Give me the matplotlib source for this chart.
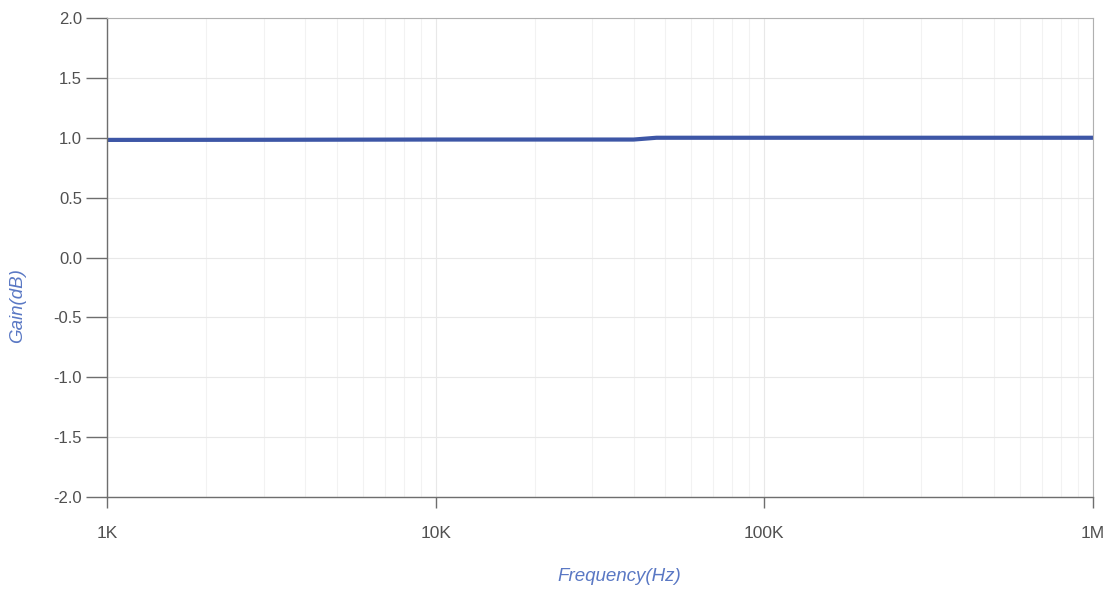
import numpy as np
import matplotlib.pyplot as plt
from matplotlib.ticker import FixedLocator, LogLocator, NullFormatter

# Frequency response data (Hz, dB)
freq = [1e3, 3e3, 1e4, 2e4, 4.0e4, 4.7e4, 1e5, 3e5, 1e6]
gain = [0.982, 0.983, 0.985, 0.985, 0.985, 1.0, 1.0, 1.0, 1.0]

x_ticks = [1e3, 1e4, 1e5, 1e6]
x_labels = ['1K', '10K', '100K', '1M']
y_ticks = [-2.0, -1.5, -1.0, -0.5, 0.0, 0.5, 1.0, 1.5, 2.0]

plt.rcParams['font.family'] = ['Liberation Sans', 'DejaVu Sans']

fig = plt.figure(figsize=(11.1, 5.89), dpi=100)
ax = fig.add_axes([107/1110, 1 - 497/589, (1093-107)/1110, (497-18)/589])

ax.plot(freq, gain, color='#3d56a6', lw=3.0, solid_capstyle='butt')

ax.set_xscale('log')
ax.set_xlim(1e3, 1e6)
ax.set_ylim(-2.0, 2.0)

ax.xaxis.set_major_locator(FixedLocator(x_ticks))
ax.set_xticklabels(x_labels)
ax.xaxis.set_minor_locator(LogLocator(base=10, subs=np.arange(2, 10)))
ax.xaxis.set_minor_formatter(NullFormatter())
ax.set_yticks(y_ticks)
ax.set_yticklabels(['%.1f' % v for v in y_ticks])

ax.grid(True, which='major', color='#e8e8e8', lw=0.8)
ax.grid(True, which='minor', axis='x', color='#f2f2f2', lw=0.8)

for side in ['left', 'bottom']:
    ax.spines[side].set_color('#6e6e6e')
    ax.spines[side].set_linewidth(1.0)
for side in ['top', 'right']:
    ax.spines[side].set_color('#b0b0b0')
    ax.spines[side].set_linewidth(0.8)

ax.tick_params(axis='y', which='major', direction='out', length=15, width=1.0,
               color='#6e6e6e', labelsize=12, labelcolor='#505050', pad=3)
ax.tick_params(axis='x', which='major', direction='out', length=8, width=1.0,
               color='#6e6e6e', labelsize=12.5, labelcolor='#505050', pad=13)
ax.tick_params(axis='x', which='minor', length=0)

ax.set_xlabel('Frequency(Hz)', color='#5a78c4', fontsize=13.5, style='italic')
ax.set_ylabel('Gain(dB)', color='#5a78c4', fontsize=13.5, style='italic')
ax.xaxis.set_label_coords(0.52, -0.148)
ax.yaxis.set_label_coords(-0.082, 0.40)

fig.savefig('out.png', dpi=100)
